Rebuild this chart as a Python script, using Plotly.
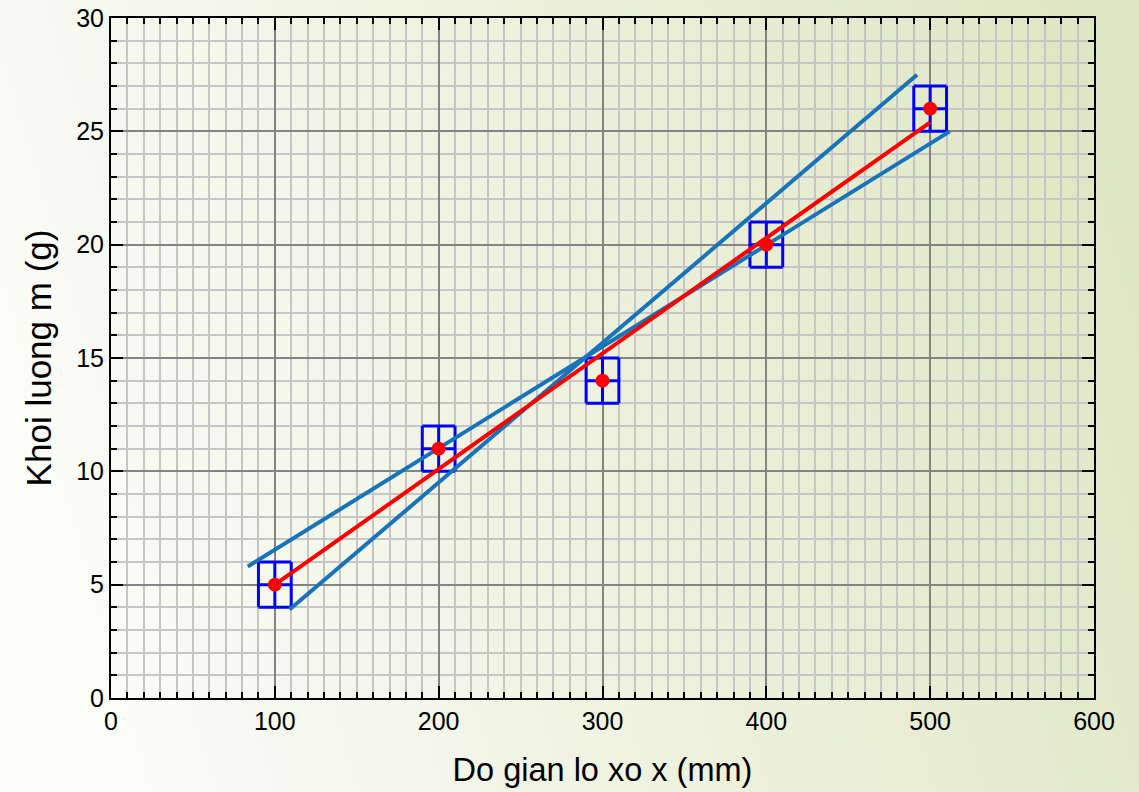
import plotly.graph_objects as go

# Data
x_data = [100, 200, 300, 400, 500]
y_data = [5, 11, 14, 20, 26]
x_err = [10, 10, 10, 10, 10]
y_err = [1, 1, 1, 1, 1]

fit_x = [100, 500]
fit_y = [5.0, 25.4]

steep_x = [109, 492]
steep_y = [3.9, 27.5]

shallow_x = [83.5, 512]
shallow_y = [5.8, 25.0]

x_ticks = [0, 100, 200, 300, 400, 500, 600]
y_ticks = [0, 5, 10, 15, 20, 25, 30]

FONT = "Liberation Sans, Arial, sans-serif"
BLUE_LINE = "#1774B9"

bg_svg = (
    "data:image/svg+xml;utf8,"
    "<svg xmlns='http://www.w3.org/2000/svg' width='100' height='100' preserveAspectRatio='none'>"
    "<defs><linearGradient id='g' x1='0' y1='0.6' x2='1' y2='0.4'>"
    "<stop offset='0' stop-color='%23fcfdf9'/>"
    "<stop offset='1' stop-color='%23dfe6c3'/>"
    "</linearGradient></defs>"
    "<rect width='100' height='100' fill='url(%23g)'/></svg>"
)

fig = go.Figure()

fig.add_trace(go.Scatter(
    x=x_data, y=y_data, mode="markers",
    marker=dict(size=1, color="rgba(0,0,0,0)"),
    error_x=dict(type="data", array=x_err, color="#0000ff", thickness=3, width=22.7),
    error_y=dict(type="data", array=y_err, color="#0000ff", thickness=3, width=16.4),
    showlegend=False, hoverinfo="skip",
))
fig.add_trace(go.Scatter(x=steep_x, y=steep_y, mode="lines",
                         line=dict(color=BLUE_LINE, width=4), showlegend=False))
fig.add_trace(go.Scatter(x=shallow_x, y=shallow_y, mode="lines",
                         line=dict(color=BLUE_LINE, width=4), showlegend=False))
fig.add_trace(go.Scatter(x=fit_x, y=fit_y, mode="lines",
                         line=dict(color="#ff0000", width=4), showlegend=False))
fig.add_trace(go.Scatter(x=x_data, y=y_data, mode="markers",
                         marker=dict(size=14, color="#ff0000"), showlegend=False))

axis_common = dict(
    showline=True, linecolor="black", linewidth=2, mirror="allticks",
    ticks="inside", ticklen=12, tickwidth=2, tickcolor="black",
    showgrid=True, gridcolor="#848484", gridwidth=2,
    zeroline=False, automargin=False,
    tickfont=dict(family=FONT, size=25, color="black"),
)

fig.update_xaxes(
    **axis_common,
    range=[0, 600], tickvals=x_ticks, ticktext=[str(v) for v in x_ticks],
    minor=dict(dtick=10, tick0=0, ticks="inside", ticklen=6, tickwidth=2, tickcolor="black",
               showgrid=True, gridcolor="#c6c6c6", gridwidth=1.5),
    title=dict(text="Do gian lo xo x (mm)", font=dict(family=FONT, size=32.5, color="black"), standoff=24),
)
fig.update_yaxes(
    **axis_common,
    range=[0, 30], tickvals=y_ticks, ticktext=[str(v) for v in y_ticks],
    minor=dict(dtick=1, tick0=0, ticks="inside", ticklen=6, tickwidth=2, tickcolor="black",
               showgrid=True, gridcolor="#c6c6c6", gridwidth=1.5),
    title=dict(text="Khoi luong m (g)", font=dict(family=FONT, size=35, color="black"), standoff=14),
)

fig.update_layout(
    width=1139, height=792,
    margin=dict(l=111, r=45, t=18, b=94, autoexpand=False),
    paper_bgcolor="#f4f6ea",
    plot_bgcolor="rgba(0,0,0,0)",
    images=[dict(source=bg_svg, xref="paper", yref="paper", x=-0.12, y=1.03,
                 sizex=1.2, sizey=1.2, sizing="stretch", layer="below",
                 xanchor="left", yanchor="top")],
)

fig.write_html("out.html")
